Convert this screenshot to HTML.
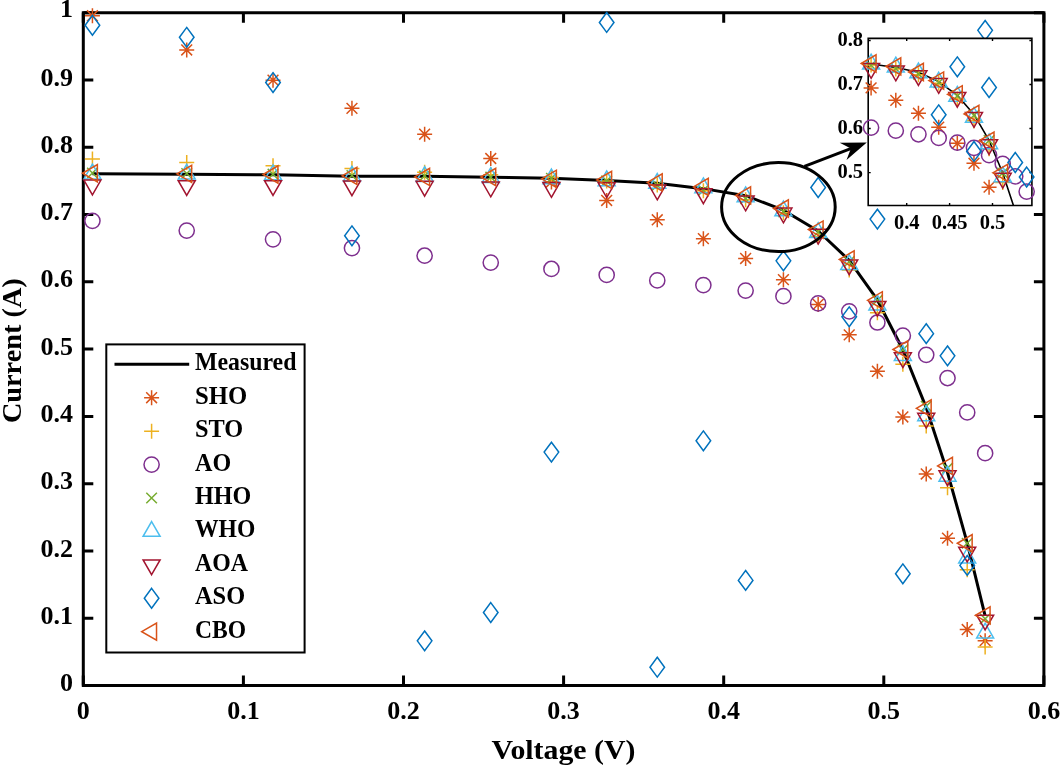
<!DOCTYPE html><html><head><meta charset="utf-8"><style>
html,body{margin:0;padding:0;background:#fff;width:1060px;height:767px;overflow:hidden}
svg{display:block;will-change:transform}
text{font-family:"Liberation Serif",serif;font-weight:bold;fill:#000}
</style></head><body>
<svg width="1060" height="767" viewBox="0 0 1060 767">
<rect width="1060" height="767" fill="#fff"/>
<g stroke="#000" stroke-width="3" fill="none">
<path d="M83.3 12.7H1043.9V685.5H83.3Z" stroke-linejoin="miter"/>
<path d="M83.3 685.5v-10M83.3 12.7v10M243.4 685.5v-10M243.4 12.7v10M403.5 685.5v-10M403.5 12.7v10M563.6 685.5v-10M563.6 12.7v10M723.7 685.5v-10M723.7 12.7v10M883.8 685.5v-10M883.8 12.7v10M1043.9 685.5v-10M1043.9 12.7v10M83.3 685.5h10M1043.9 685.5h-10M83.3 618.22h10M1043.9 618.22h-10M83.3 550.94h10M1043.9 550.94h-10M83.3 483.66h10M1043.9 483.66h-10M83.3 416.38h10M1043.9 416.38h-10M83.3 349.1h10M1043.9 349.1h-10M83.3 281.82h10M1043.9 281.82h-10M83.3 214.54h10M1043.9 214.54h-10M83.3 147.26h10M1043.9 147.26h-10M83.3 79.98h10M1043.9 79.98h-10M83.3 12.7h10M1043.9 12.7h-10"/>
</g>
<polyline points="92.43,173.84 186.72,174.17 273.02,174.84 351.95,176.19 424.63,176.19 490.75,177.2 551.43,178.21 606.67,180.56 657.26,183.25 703.37,188.64 745.63,195.7 783.42,210.17 818.16,231.02 849.22,260.29 877.4,299.99 902.85,349.77 926.23,407.63 947.52,472.56 967.21,542.87 985.14,615.87" fill="none" stroke="#000" stroke-width="3" stroke-linejoin="round"/>
<g fill="none" stroke-width="1.5" stroke-linejoin="miter" stroke-miterlimit="10">
<path d="M84.93 15.79h15M92.43 8.29v15M87.03 10.39l10.8 10.8M87.03 21.19l10.8 -10.8" stroke="#D95319"/>
<path d="M179.22 49.97h15M186.72 42.47v15M181.32 44.57l10.8 10.8M181.32 55.37l10.8 -10.8" stroke="#D95319"/>
<path d="M265.52 80.18h15M273.02 72.68v15M267.62 74.78l10.8 10.8M267.62 85.58l10.8 -10.8" stroke="#D95319"/>
<path d="M344.45 108.37h15M351.95 100.87v15M346.55 102.97l10.8 10.8M346.55 113.77l10.8 -10.8" stroke="#D95319"/>
<path d="M417.13 134.21h15M424.63 126.71v15M419.23 128.81l10.8 10.8M419.23 139.61l10.8 -10.8" stroke="#D95319"/>
<path d="M483.25 158.5h15M490.75 151v15M485.35 153.1l10.8 10.8M485.35 163.9l10.8 -10.8" stroke="#D95319"/>
<path d="M543.93 181.98h15M551.43 174.48v15M546.03 176.58l10.8 10.8M546.03 187.38l10.8 -10.8" stroke="#D95319"/>
<path d="M599.17 200.48h15M606.67 192.98v15M601.27 195.08l10.8 10.8M601.27 205.88l10.8 -10.8" stroke="#D95319"/>
<path d="M649.76 219.79h15M657.26 212.29v15M651.86 214.39l10.8 10.8M651.86 225.19l10.8 -10.8" stroke="#D95319"/>
<path d="M695.87 238.69h15M703.37 231.19v15M697.97 233.29l10.8 10.8M697.97 244.09l10.8 -10.8" stroke="#D95319"/>
<path d="M738.13 258.47h15M745.63 250.97v15M740.23 253.07l10.8 10.8M740.23 263.87l10.8 -10.8" stroke="#D95319"/>
<path d="M775.92 279.67h15M783.42 272.17v15M778.02 274.27l10.8 10.8M778.02 285.07l10.8 -10.8" stroke="#D95319"/>
<path d="M810.66 304.43h15M818.16 296.93v15M812.76 299.03l10.8 10.8M812.76 309.83l10.8 -10.8" stroke="#D95319"/>
<path d="M841.72 334.84h15M849.22 327.34v15M843.82 329.44l10.8 10.8M843.82 340.24l10.8 -10.8" stroke="#D95319"/>
<path d="M869.9 371.3h15M877.4 363.8v15M872 365.9l10.8 10.8M872 376.7l10.8 -10.8" stroke="#D95319"/>
<path d="M895.35 416.99h15M902.85 409.49v15M897.45 411.59l10.8 10.8M897.45 422.39l10.8 -10.8" stroke="#D95319"/>
<path d="M918.73 473.97h15M926.23 466.47v15M920.83 468.57l10.8 10.8M920.83 479.37l10.8 -10.8" stroke="#D95319"/>
<path d="M940.02 538.16h15M947.52 530.66v15M942.12 532.76l10.8 10.8M942.12 543.56l10.8 -10.8" stroke="#D95319"/>
<path d="M959.71 629.52h15M967.21 622.02v15M961.81 624.12l10.8 10.8M961.81 634.92l10.8 -10.8" stroke="#D95319"/>
<path d="M977.64 640.69h15M985.14 633.19v15M979.74 635.29l10.8 10.8M979.74 646.09l10.8 -10.8" stroke="#D95319"/>
<path d="M84.93 158.9h15M92.43 151.4v15" stroke="#EDB120"/>
<path d="M179.22 162.6h15M186.72 155.1v15" stroke="#EDB120"/>
<path d="M265.52 165.83h15M273.02 158.33v15" stroke="#EDB120"/>
<path d="M344.45 168.59h15M351.95 161.09v15" stroke="#EDB120"/>
<path d="M417.13 172.15h15M424.63 164.65v15" stroke="#EDB120"/>
<path d="M483.25 174.84h15M490.75 167.34v15" stroke="#EDB120"/>
<path d="M543.93 177.54h15M551.43 170.04v15" stroke="#EDB120"/>
<path d="M599.17 180.9h15M606.67 173.4v15" stroke="#EDB120"/>
<path d="M649.76 184.94h15M657.26 177.44v15" stroke="#EDB120"/>
<path d="M695.87 190.72h15M703.37 183.22v15" stroke="#EDB120"/>
<path d="M738.13 199.74h15M745.63 192.24v15" stroke="#EDB120"/>
<path d="M775.92 212.72h15M783.42 205.22v15" stroke="#EDB120"/>
<path d="M810.66 236.74h15M818.16 229.24v15" stroke="#EDB120"/>
<path d="M841.72 269.98h15M849.22 262.48v15" stroke="#EDB120"/>
<path d="M869.9 312.63h15M877.4 305.13v15" stroke="#EDB120"/>
<path d="M895.35 364.24h15M902.85 356.74v15" stroke="#EDB120"/>
<path d="M918.73 426h15M926.23 418.5v15" stroke="#EDB120"/>
<path d="M940.02 487.76h15M947.52 480.26v15" stroke="#EDB120"/>
<path d="M959.71 569.78h15M967.21 562.28v15" stroke="#EDB120"/>
<path d="M977.64 647.08h15M985.14 639.58v15" stroke="#EDB120"/>
<circle cx="92.43" cy="220.8" r="7.6" stroke="#7E2F8E"/>
<circle cx="186.72" cy="230.62" r="7.6" stroke="#7E2F8E"/>
<circle cx="273.02" cy="239.37" r="7.6" stroke="#7E2F8E"/>
<circle cx="351.95" cy="248.11" r="7.6" stroke="#7E2F8E"/>
<circle cx="424.63" cy="255.72" r="7.6" stroke="#7E2F8E"/>
<circle cx="490.75" cy="262.58" r="7.6" stroke="#7E2F8E"/>
<circle cx="551.43" cy="268.97" r="7.6" stroke="#7E2F8E"/>
<circle cx="606.67" cy="274.89" r="7.6" stroke="#7E2F8E"/>
<circle cx="657.26" cy="280.41" r="7.6" stroke="#7E2F8E"/>
<circle cx="703.37" cy="285.05" r="7.6" stroke="#7E2F8E"/>
<circle cx="745.63" cy="290.57" r="7.6" stroke="#7E2F8E"/>
<circle cx="783.42" cy="296.15" r="7.6" stroke="#7E2F8E"/>
<circle cx="818.16" cy="303.42" r="7.6" stroke="#7E2F8E"/>
<circle cx="849.22" cy="311.29" r="7.6" stroke="#7E2F8E"/>
<circle cx="877.4" cy="322.52" r="7.6" stroke="#7E2F8E"/>
<circle cx="902.85" cy="335.64" r="7.6" stroke="#7E2F8E"/>
<circle cx="926.23" cy="354.82" r="7.6" stroke="#7E2F8E"/>
<circle cx="947.52" cy="378.03" r="7.6" stroke="#7E2F8E"/>
<circle cx="967.21" cy="412.41" r="7.6" stroke="#7E2F8E"/>
<circle cx="985.14" cy="453.18" r="7.6" stroke="#7E2F8E"/>
<path d="M87.13 167.73l10.6 10.6M87.13 178.33l10.6 -10.6" stroke="#77AC30"/>
<path d="M181.42 168.2l10.6 10.6M181.42 178.8l10.6 -10.6" stroke="#77AC30"/>
<path d="M267.72 168.87l10.6 10.6M267.72 179.47l10.6 -10.6" stroke="#77AC30"/>
<path d="M346.65 170.22l10.6 10.6M346.65 180.82l10.6 -10.6" stroke="#77AC30"/>
<path d="M419.33 170.55l10.6 10.6M419.33 181.15l10.6 -10.6" stroke="#77AC30"/>
<path d="M485.45 171.9l10.6 10.6M485.45 182.5l10.6 -10.6" stroke="#77AC30"/>
<path d="M546.13 172.98l10.6 10.6M546.13 183.58l10.6 -10.6" stroke="#77AC30"/>
<path d="M601.37 175.6l10.6 10.6M601.37 186.2l10.6 -10.6" stroke="#77AC30"/>
<path d="M651.96 179.91l10.6 10.6M651.96 190.51l10.6 -10.6" stroke="#77AC30"/>
<path d="M698.07 185.02l10.6 10.6M698.07 195.62l10.6 -10.6" stroke="#77AC30"/>
<path d="M740.33 193.36l10.6 10.6M740.33 203.96l10.6 -10.6" stroke="#77AC30"/>
<path d="M778.12 206.35l10.6 10.6M778.12 216.95l10.6 -10.6" stroke="#77AC30"/>
<path d="M812.86 226.73l10.6 10.6M812.86 237.33l10.6 -10.6" stroke="#77AC30"/>
<path d="M843.92 256.34l10.6 10.6M843.92 266.94l10.6 -10.6" stroke="#77AC30"/>
<path d="M872.1 294.89l10.6 10.6M872.1 305.49l10.6 -10.6" stroke="#77AC30"/>
<path d="M897.55 344.47l10.6 10.6M897.55 355.07l10.6 -10.6" stroke="#77AC30"/>
<path d="M920.93 400.99l10.6 10.6M920.93 411.59l10.6 -10.6" stroke="#77AC30"/>
<path d="M942.22 462.89l10.6 10.6M942.22 473.49l10.6 -10.6" stroke="#77AC30"/>
<path d="M961.91 537.97l10.6 10.6M961.91 548.57l10.6 -10.6" stroke="#77AC30"/>
<path d="M979.84 613.53l10.6 10.6M979.84 624.13l10.6 -10.6" stroke="#77AC30"/>
<path d="M92.43 164.1L100.93 178.9L83.93 178.9Z" stroke="#4DBEEE"/>
<path d="M186.72 164.31L195.22 179.11L178.22 179.11Z" stroke="#4DBEEE"/>
<path d="M273.02 164.98L281.52 179.78L264.52 179.78Z" stroke="#4DBEEE"/>
<path d="M351.95 166.32L360.45 181.12L343.45 181.12Z" stroke="#4DBEEE"/>
<path d="M424.63 166.66L433.13 181.46L416.13 181.46Z" stroke="#4DBEEE"/>
<path d="M490.75 167.67L499.25 182.47L482.25 182.47Z" stroke="#4DBEEE"/>
<path d="M551.43 169.01L559.93 183.81L542.93 183.81Z" stroke="#4DBEEE"/>
<path d="M606.67 170.9L615.17 185.7L598.17 185.7Z" stroke="#4DBEEE"/>
<path d="M657.26 173.52L665.76 188.32L648.76 188.32Z" stroke="#4DBEEE"/>
<path d="M703.37 177.96L711.87 192.76L694.87 192.76Z" stroke="#4DBEEE"/>
<path d="M745.63 186.98L754.13 201.78L737.13 201.78Z" stroke="#4DBEEE"/>
<path d="M783.42 201.04L791.92 215.84L774.92 215.84Z" stroke="#4DBEEE"/>
<path d="M818.16 222.7L826.66 237.5L809.66 237.5Z" stroke="#4DBEEE"/>
<path d="M849.22 254.8L857.72 269.6L840.72 269.6Z" stroke="#4DBEEE"/>
<path d="M877.4 295.23L885.9 310.03L868.9 310.03Z" stroke="#4DBEEE"/>
<path d="M902.85 345.62L911.35 360.42L894.35 360.42Z" stroke="#4DBEEE"/>
<path d="M926.23 405.84L934.73 420.64L917.73 420.64Z" stroke="#4DBEEE"/>
<path d="M947.52 466.33L956.02 481.13L939.02 481.13Z" stroke="#4DBEEE"/>
<path d="M967.21 548.14L975.71 562.94L958.71 562.94Z" stroke="#4DBEEE"/>
<path d="M985.14 623.22L993.64 638.02L976.64 638.02Z" stroke="#4DBEEE"/>
<path d="M92.43 194.87L100.93 180.07L83.93 180.07Z" stroke="#A2142F"/>
<path d="M186.72 195.48L195.22 180.68L178.22 180.68Z" stroke="#A2142F"/>
<path d="M273.02 195.48L281.52 180.68L264.52 180.68Z" stroke="#A2142F"/>
<path d="M351.95 195.68L360.45 180.88L343.45 180.88Z" stroke="#A2142F"/>
<path d="M424.63 196.15L433.13 181.35L416.13 181.35Z" stroke="#A2142F"/>
<path d="M490.75 196.82L499.25 182.02L482.25 182.02Z" stroke="#A2142F"/>
<path d="M551.43 197.29L559.93 182.49L542.93 182.49Z" stroke="#A2142F"/>
<path d="M606.67 197.56L615.17 182.76L598.17 182.76Z" stroke="#A2142F"/>
<path d="M657.26 199.85L665.76 185.05L648.76 185.05Z" stroke="#A2142F"/>
<path d="M703.37 203.62L711.87 188.82L694.87 188.82Z" stroke="#A2142F"/>
<path d="M745.63 210.82L754.13 196.02L737.13 196.02Z" stroke="#A2142F"/>
<path d="M783.42 222.86L791.92 208.06L774.92 208.06Z" stroke="#A2142F"/>
<path d="M818.16 244.05L826.66 229.25L809.66 229.25Z" stroke="#A2142F"/>
<path d="M849.22 274.73L857.72 259.93L840.72 259.93Z" stroke="#A2142F"/>
<path d="M877.4 316.18L885.9 301.38L868.9 301.38Z" stroke="#A2142F"/>
<path d="M902.85 367.58L911.35 352.78L894.35 352.78Z" stroke="#A2142F"/>
<path d="M926.23 428.06L934.73 413.26L917.73 413.26Z" stroke="#A2142F"/>
<path d="M947.52 485.65L956.02 470.85L939.02 470.85Z" stroke="#A2142F"/>
<path d="M967.21 561.95L975.71 547.15L958.71 547.15Z" stroke="#A2142F"/>
<path d="M985.14 629.97L993.64 615.17L976.64 615.17Z" stroke="#A2142F"/>
<path d="M92.43 15.38L99.73 25.28L92.43 35.18L85.13 25.28Z" stroke="#0072BD"/>
<path d="M186.72 27.42L194.02 37.32L186.72 47.22L179.42 37.32Z" stroke="#0072BD"/>
<path d="M273.02 72.64L280.32 82.54L273.02 92.44L265.72 82.54Z" stroke="#0072BD"/>
<path d="M351.95 225.9L359.25 235.8L351.95 245.7L344.65 235.8Z" stroke="#0072BD"/>
<path d="M424.63 630.93L431.93 640.83L424.63 650.73L417.33 640.83Z" stroke="#0072BD"/>
<path d="M490.75 602.6L498.05 612.5L490.75 622.4L483.45 612.5Z" stroke="#0072BD"/>
<path d="M551.43 442.21L558.73 452.11L551.43 462.01L544.13 452.11Z" stroke="#0072BD"/>
<path d="M606.67 12.56L613.97 22.46L606.67 32.36L599.37 22.46Z" stroke="#0072BD"/>
<path d="M657.26 657.3L664.56 667.2L657.26 677.1L649.96 667.2Z" stroke="#0072BD"/>
<path d="M703.37 430.9L710.67 440.8L703.37 450.7L696.07 440.8Z" stroke="#0072BD"/>
<path d="M745.63 570.51L752.93 580.41L745.63 590.31L738.33 580.41Z" stroke="#0072BD"/>
<path d="M783.42 250.93L790.72 260.83L783.42 270.73L776.12 260.83Z" stroke="#0072BD"/>
<path d="M818.16 177.59L825.46 187.49L818.16 197.39L810.86 187.49Z" stroke="#0072BD"/>
<path d="M849.22 306.91L856.52 316.81L849.22 326.71L841.92 316.81Z" stroke="#0072BD"/>
<path d="M877.4 209.22L884.7 219.12L877.4 229.02L870.1 219.12Z" stroke="#0072BD"/>
<path d="M902.85 563.92L910.15 573.82L902.85 583.72L895.55 573.82Z" stroke="#0072BD"/>
<path d="M926.23 323.73L933.53 333.63L926.23 343.53L918.93 333.63Z" stroke="#0072BD"/>
<path d="M947.52 345.93L954.82 355.83L947.52 365.73L940.22 355.83Z" stroke="#0072BD"/>
<path d="M967.21 555.51L974.51 565.41L967.21 575.31L959.91 565.41Z" stroke="#0072BD"/>
<path d="M985.14 20.43L992.44 30.33L985.14 40.23L977.84 30.33Z" stroke="#0072BD"/>
<path d="M82.56 173.23L97.36 164.63L97.36 181.83Z" stroke="#D95319"/>
<path d="M176.86 173.84L191.66 165.24L191.66 182.44Z" stroke="#D95319"/>
<path d="M263.15 174.51L277.95 165.91L277.95 183.11Z" stroke="#D95319"/>
<path d="M342.08 175.85L356.88 167.25L356.88 184.45Z" stroke="#D95319"/>
<path d="M414.77 176.93L429.57 168.33L429.57 185.53Z" stroke="#D95319"/>
<path d="M480.89 177L495.69 168.4L495.69 185.6Z" stroke="#D95319"/>
<path d="M541.57 178.81L556.37 170.21L556.37 187.41Z" stroke="#D95319"/>
<path d="M596.8 179.96L611.6 171.36L611.6 188.56Z" stroke="#D95319"/>
<path d="M647.39 182.45L662.19 173.85L662.19 191.05Z" stroke="#D95319"/>
<path d="M693.5 186.89L708.3 178.29L708.3 195.49Z" stroke="#D95319"/>
<path d="M735.77 195.43L750.57 186.83L750.57 204.03Z" stroke="#D95319"/>
<path d="M773.55 208.48L788.35 199.88L788.35 217.08Z" stroke="#D95319"/>
<path d="M808.29 229.54L823.09 220.94L823.09 238.14Z" stroke="#D95319"/>
<path d="M839.35 259.42L854.15 250.82L854.15 268.02Z" stroke="#D95319"/>
<path d="M867.53 300.32L882.33 291.72L882.33 308.92Z" stroke="#D95319"/>
<path d="M892.99 349.5L907.79 340.9L907.79 358.1Z" stroke="#D95319"/>
<path d="M916.36 408.37L931.16 399.77L931.16 416.97Z" stroke="#D95319"/>
<path d="M937.65 465.97L952.45 457.37L952.45 474.57Z" stroke="#D95319"/>
<path d="M957.35 543.27L972.15 534.67L972.15 551.87Z" stroke="#D95319"/>
<path d="M975.28 615.33L990.08 606.73L990.08 623.93Z" stroke="#D95319"/>
</g>
<g font-size="26">
<text x="83.3" y="719.2" text-anchor="middle">0</text>
<text x="243.4" y="719.2" text-anchor="middle">0.1</text>
<text x="403.5" y="719.2" text-anchor="middle">0.2</text>
<text x="563.6" y="719.2" text-anchor="middle">0.3</text>
<text x="723.7" y="719.2" text-anchor="middle">0.4</text>
<text x="883.8" y="719.2" text-anchor="middle">0.5</text>
<text x="1043.9" y="719.2" text-anchor="middle">0.6</text>
<text x="73" y="691.1" text-anchor="end">0</text>
<text x="73" y="623.82" text-anchor="end">0.1</text>
<text x="73" y="556.54" text-anchor="end">0.2</text>
<text x="73" y="489.26" text-anchor="end">0.3</text>
<text x="73" y="421.98" text-anchor="end">0.4</text>
<text x="73" y="354.7" text-anchor="end">0.5</text>
<text x="73" y="287.42" text-anchor="end">0.6</text>
<text x="73" y="220.14" text-anchor="end">0.7</text>
<text x="73" y="152.86" text-anchor="end">0.8</text>
<text x="73" y="85.58" text-anchor="end">0.9</text>
<text x="73" y="17" text-anchor="end">1</text>
</g>
<text transform="translate(563.5 758.7) scale(1.054 1)" font-size="28.3" text-anchor="middle">Voltage (V)</text>
<text transform="translate(20.8 350.7) rotate(-90)" font-size="28.3" text-anchor="middle">Current (A)</text>
<rect x="106.3" y="344.4" width="198.3" height="308.1" fill="#fff" stroke="#000" stroke-width="2"/>
<g font-size="24.5">
<text transform="translate(195 370.3) scale(0.9725 1)">Measured</text>
<text transform="translate(195 403.72) scale(1.009 1)">SHO</text>
<text transform="translate(195 437.14) scale(0.993 1)">STO</text>
<text transform="translate(195 470.56) scale(0.984 1)">AO</text>
<text transform="translate(195 503.98) scale(0.985 1)">HHO</text>
<text transform="translate(195 537.4) scale(0.964 1)">WHO</text>
<text transform="translate(195 570.82) scale(0.974 1)">AOA</text>
<text transform="translate(195 604.24) scale(0.996 1)">ASO</text>
<text transform="translate(195 637.66) scale(0.964 1)">CBO</text>
</g>
<path d="M114.5 364.3H189.2" stroke="#000" stroke-width="3"/>
<g fill="none" stroke-width="1.5">
<path d="M144.1 397.72h15M151.6 390.22v15M146.2 392.32l10.8 10.8M146.2 403.12l10.8 -10.8" stroke="#D95319"/>
<path d="M144.1 431.14h15M151.6 423.64v15" stroke="#EDB120"/>
<circle cx="151.6" cy="464.56" r="7.6" stroke="#7E2F8E"/>
<path d="M146.3 492.68l10.6 10.6M146.3 503.28l10.6 -10.6" stroke="#77AC30"/>
<path d="M151.6 521.53L160.1 536.33L143.1 536.33Z" stroke="#4DBEEE"/>
<path d="M151.6 574.69L160.1 559.89L143.1 559.89Z" stroke="#A2142F"/>
<path d="M151.6 588.34L158.9 598.24L151.6 608.14L144.3 598.24Z" stroke="#0072BD"/>
<path d="M141.73 631.66L156.53 623.06L156.53 640.26Z" stroke="#D95319"/>
</g>
<ellipse cx="778.4" cy="207.1" rx="56.8" ry="44.5" fill="none" stroke="#000" stroke-width="3"/>
<path d="M804.4 166.3L852 148.2" stroke="#000" stroke-width="3"/>
<path d="M866.8 142.5L839.7 142.8L850.9 148.6L846.5 159.9Z" fill="#000"/>
<rect x="868.2" y="38.4" width="163.7" height="167.1" fill="#fff"/>
<defs><clipPath id="ic"><rect x="868.2" y="38.4" width="163.7" height="167.1"/></clipPath></defs>
<g stroke="#000" fill="none">
<path d="M868.2 38.4H1031.9V205.5H868.2Z" stroke-width="1.6"/>
<path d="M906.7 205.5v-2.5M906.7 38.4v2.5M949.6 205.5v-2.5M949.6 38.4v2.5M992.5 205.5v-2.5M992.5 38.4v2.5M868.2 172.6h2.5M1031.9 172.6h-2.5M868.2 128.55h2.5M1031.9 128.55h-2.5M868.2 84.5h2.5M1031.9 84.5h-2.5M868.2 40.45h2.5M1031.9 40.45h-2.5" stroke-width="1.4"/>
</g>
<polyline clip-path="url(#ic)" points="568.39,57.85 618.93,58.07 665.17,58.51 707.47,59.39 746.43,59.39 781.86,60.05 814.38,60.71 843.98,62.25 871.09,64.02 895.8,67.54 918.45,72.17 938.7,81.64 957.32,95.29 973.97,114.45 989.07,140.44 1002.71,173.04 1015.24,210.92 1026.65,253.43 1037.2,299.46 1046.81,347.26" fill="none" stroke="#000" stroke-width="1.6" stroke-linejoin="round"/>
<g fill="none" stroke-width="1.5" stroke-linejoin="miter" stroke-miterlimit="10">
<path d="M863.59 87.94h15M871.09 80.44v15M865.69 82.54l10.8 10.8M865.69 93.34l10.8 -10.8" stroke="#D95319"/>
<path d="M888.3 100.31h15M895.8 92.81v15M890.4 94.91l10.8 10.8M890.4 105.71l10.8 -10.8" stroke="#D95319"/>
<path d="M910.95 113.26h15M918.45 105.76v15M913.05 107.86l10.8 10.8M913.05 118.66l10.8 -10.8" stroke="#D95319"/>
<path d="M931.2 127.14h15M938.7 119.64v15M933.3 121.74l10.8 10.8M933.3 132.54l10.8 -10.8" stroke="#D95319"/>
<path d="M949.82 143.35h15M957.32 135.85v15M951.92 137.95l10.8 10.8M951.92 148.75l10.8 -10.8" stroke="#D95319"/>
<path d="M966.47 163.26h15M973.97 155.76v15M968.57 157.86l10.8 10.8M968.57 168.66l10.8 -10.8" stroke="#D95319"/>
<path d="M981.57 187.14h15M989.07 179.64v15M983.67 181.74l10.8 10.8M983.67 192.54l10.8 -10.8" stroke="#D95319"/>
<path d="M863.59 65.12h15M871.09 57.62v15" stroke="#EDB120"/>
<path d="M888.3 68.91h15M895.8 61.41v15" stroke="#EDB120"/>
<path d="M910.95 74.81h15M918.45 67.31v15" stroke="#EDB120"/>
<path d="M931.2 83.31h15M938.7 75.81v15" stroke="#EDB120"/>
<path d="M949.82 99.04h15M957.32 91.54v15" stroke="#EDB120"/>
<path d="M966.47 120.8h15M973.97 113.3v15" stroke="#EDB120"/>
<path d="M981.57 148.72h15M989.07 141.22v15" stroke="#EDB120"/>
<path d="M995.21 182.51h15M1002.71 175.01v15" stroke="#EDB120"/>
<circle cx="871.09" cy="127.62" r="7.6" stroke="#7E2F8E"/>
<circle cx="895.8" cy="130.66" r="7.6" stroke="#7E2F8E"/>
<circle cx="918.45" cy="134.28" r="7.6" stroke="#7E2F8E"/>
<circle cx="938.7" cy="137.93" r="7.6" stroke="#7E2F8E"/>
<circle cx="957.32" cy="142.69" r="7.6" stroke="#7E2F8E"/>
<circle cx="973.97" cy="147.84" r="7.6" stroke="#7E2F8E"/>
<circle cx="989.07" cy="155.2" r="7.6" stroke="#7E2F8E"/>
<circle cx="1002.71" cy="163.79" r="7.6" stroke="#7E2F8E"/>
<circle cx="1015.24" cy="176.34" r="7.6" stroke="#7E2F8E"/>
<circle cx="1026.65" cy="191.54" r="7.6" stroke="#7E2F8E"/>
<path d="M865.79 59.99l10.6 10.6M865.79 70.59l10.6 -10.6" stroke="#77AC30"/>
<path d="M890.5 63.34l10.6 10.6M890.5 73.94l10.6 -10.6" stroke="#77AC30"/>
<path d="M913.15 68.8l10.6 10.6M913.15 79.4l10.6 -10.6" stroke="#77AC30"/>
<path d="M933.4 77.31l10.6 10.6M933.4 87.91l10.6 -10.6" stroke="#77AC30"/>
<path d="M952.02 90.65l10.6 10.6M952.02 101.25l10.6 -10.6" stroke="#77AC30"/>
<path d="M968.67 110.03l10.6 10.6M968.67 120.63l10.6 -10.6" stroke="#77AC30"/>
<path d="M983.77 135.28l10.6 10.6M983.77 145.88l10.6 -10.6" stroke="#77AC30"/>
<path d="M997.41 167.74l10.6 10.6M997.41 178.34l10.6 -10.6" stroke="#77AC30"/>
<path d="M871.09 54.24L879.59 69.04L862.59 69.04Z" stroke="#4DBEEE"/>
<path d="M895.8 57.15L904.3 71.95L887.3 71.95Z" stroke="#4DBEEE"/>
<path d="M918.45 63.05L926.95 77.85L909.95 77.85Z" stroke="#4DBEEE"/>
<path d="M938.7 72.25L947.2 87.05L930.2 87.05Z" stroke="#4DBEEE"/>
<path d="M957.32 86.44L965.82 101.24L948.82 101.24Z" stroke="#4DBEEE"/>
<path d="M973.97 107.45L982.47 122.25L965.47 122.25Z" stroke="#4DBEEE"/>
<path d="M989.07 133.92L997.57 148.72L980.57 148.72Z" stroke="#4DBEEE"/>
<path d="M1002.71 166.92L1011.21 181.72L994.21 181.72Z" stroke="#4DBEEE"/>
<path d="M871.09 78.29L879.59 63.49L862.59 63.49Z" stroke="#A2142F"/>
<path d="M895.8 80.76L904.3 65.96L887.3 65.96Z" stroke="#A2142F"/>
<path d="M918.45 85.47L926.95 70.67L909.95 70.67Z" stroke="#A2142F"/>
<path d="M938.7 93.35L947.2 78.55L930.2 78.55Z" stroke="#A2142F"/>
<path d="M957.32 107.23L965.82 92.43L948.82 92.43Z" stroke="#A2142F"/>
<path d="M973.97 127.32L982.47 112.52L965.47 112.52Z" stroke="#A2142F"/>
<path d="M989.07 154.45L997.57 139.65L980.57 139.65Z" stroke="#A2142F"/>
<path d="M1002.71 188.11L1011.21 173.31L994.21 173.31Z" stroke="#A2142F"/>
<path d="M938.7 104.91L946 114.81L938.7 124.71L931.4 114.81Z" stroke="#0072BD"/>
<path d="M957.32 56.89L964.62 66.79L957.32 76.69L950.02 66.79Z" stroke="#0072BD"/>
<path d="M973.97 141.56L981.27 151.46L973.97 161.36L966.67 151.46Z" stroke="#0072BD"/>
<path d="M989.07 77.6L996.37 87.5L989.07 97.4L981.77 87.5Z" stroke="#0072BD"/>
<path d="M1015.24 152.57L1022.54 162.47L1015.24 172.37L1007.94 162.47Z" stroke="#0072BD"/>
<path d="M1026.65 167.1L1033.95 177L1026.65 186.91L1019.35 177Z" stroke="#0072BD"/>
<path d="M861.23 63.49L876.03 54.89L876.03 72.09Z" stroke="#D95319"/>
<path d="M885.94 66.4L900.74 57.8L900.74 75Z" stroke="#D95319"/>
<path d="M908.59 71.99L923.39 63.39L923.39 80.59Z" stroke="#D95319"/>
<path d="M928.84 80.54L943.64 71.94L943.64 89.14Z" stroke="#D95319"/>
<path d="M947.46 94.32L962.26 85.72L962.26 102.92Z" stroke="#D95319"/>
<path d="M964.1 113.88L978.9 105.28L978.9 122.48Z" stroke="#D95319"/>
<path d="M979.2 140.66L994 132.06L994 149.26Z" stroke="#D95319"/>
<path d="M992.84 172.86L1007.64 164.26L1007.64 181.46Z" stroke="#D95319"/>
</g>
<g font-size="20.5">
<text x="906.7" y="229.3" text-anchor="middle">0.4</text>
<text x="949.6" y="229.3" text-anchor="middle">0.45</text>
<text x="992.5" y="229.3" text-anchor="middle">0.5</text>
<text x="863" y="178" text-anchor="end">0.5</text>
<text x="863" y="133.95" text-anchor="end">0.6</text>
<text x="863" y="89.9" text-anchor="end">0.7</text>
<text x="863" y="45.85" text-anchor="end">0.8</text>
</g>
</svg></body></html>
